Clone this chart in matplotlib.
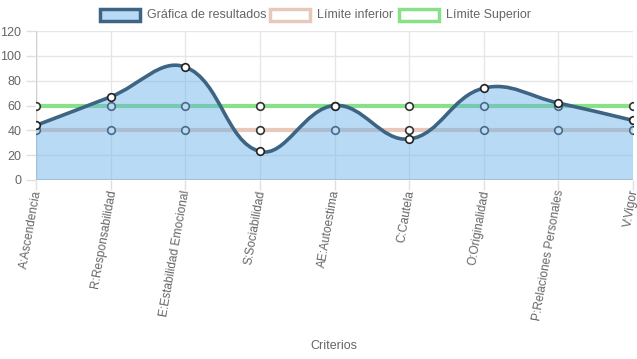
import matplotlib
matplotlib.use("Agg")
import matplotlib.pyplot as plt
import numpy as np
from matplotlib.path import Path
from matplotlib.patches import PathPatch, Rectangle

plt.rcParams['font.family'] = ['Liberation Sans', 'DejaVu Sans']

criterios = ['A:Ascendencia', 'R:Responsabilidad', 'E:Estabilidad Emocional',
             'S:Sociabilidad', 'AE:Autoestima', 'C:Cautela', 'O:Originalidad',
             'P:Relaciones Personales', 'V:Vigor']
resultados = [44, 67, 91, 23, 60, 33, 74, 62, 48]
limite_inferior = [40] * 9
limite_superior = [60] * 9

W, H = 637, 359
L, R, T, B = 36, 633, 31, 180
fig = plt.figure(figsize=(W / 100, H / 100), dpi=100)
ax = fig.add_axes([L / W, 1 - B / H, (R - L) / W, (B - T) / H])

xs = np.arange(len(criterios))
ax.set_xlim(0, len(criterios) - 1)
ax.set_ylim(0, 120)

# pixel scale, used for the chart.js style spline (tension 0.4)
sx = (R - L) / (len(criterios) - 1)
sy = (B - T) / 120.0


def spline_path(x, y, tension=0.4, close_to_zero=False):
    px = np.array(x, float) * sx
    py = np.array(y, float) * sy
    n = len(px)
    cp_prev = np.zeros((n, 2))
    cp_next = np.zeros((n, 2))
    for i in range(n):
        p0 = np.array([px[max(i - 1, 0)], py[max(i - 1, 0)]])
        p1 = np.array([px[i], py[i]])
        p2 = np.array([px[min(i + 1, n - 1)], py[min(i + 1, n - 1)]])
        d01 = np.hypot(*(p1 - p0))
        d12 = np.hypot(*(p2 - p1))
        tot = d01 + d12
        s01 = d01 / tot if tot else 0
        s12 = d12 / tot if tot else 0
        cp_prev[i] = p1 - tension * s01 * (p2 - p0)
        cp_next[i] = p1 + tension * s12 * (p2 - p0)
    verts = [(px[0], py[0])]
    codes = [Path.MOVETO]
    for i in range(n - 1):
        verts += [tuple(cp_next[i]), tuple(cp_prev[i + 1]), (px[i + 1], py[i + 1])]
        codes += [Path.CURVE4] * 3
    verts = [(vx / sx, vy / sy) for vx, vy in verts]
    if close_to_zero:
        verts += [(x[-1], 0), (x[0], 0), verts[0]]
        codes += [Path.LINETO, Path.LINETO, Path.CLOSEPOLY]
    return Path(verts, codes)


# grid
for x in xs:
    ax.axvline(x, color='#e6e6e6', lw=1, zorder=0)
for y in range(20, 121, 20):
    ax.axhline(y, color='#e6e6e6', lw=1, zorder=0)
for s in ax.spines.values():
    s.set_visible(False)
ax.axhline(0, color='#d0d0d0', lw=1.5, zorder=0.5)
ax.axvline(0, color='#d0d0d0', lw=1, zorder=0.5)

# limits
ax.plot(xs, limite_superior, color='#88e088', lw=3, zorder=1)
ax.plot(xs, limite_inferior, color='#e6c9bb', lw=3, zorder=1)
ax.scatter(xs, limite_superior, s=30, facecolor='white', edgecolor='#333333', lw=1.2, zorder=2)
ax.scatter(xs, limite_inferior, s=30, facecolor='white', edgecolor='#333333', lw=1.2, zorder=2)

# results
ax.add_patch(PathPatch(spline_path(xs, resultados, close_to_zero=True),
                       facecolor=(100 / 255, 175 / 255, 235 / 255, 0.45), edgecolor='none', zorder=3))
ax.add_patch(PathPatch(spline_path(xs, resultados), facecolor='none',
                       edgecolor='#3e6483', lw=2.6, zorder=4))
ax.scatter(xs, resultados, s=30, facecolor='white', edgecolor='#222222', lw=1.2, zorder=5)

ax.set_yticks(range(0, 121, 20))
ax.set_xticks(xs)
ax.set_xticklabels(criterios, rotation=80, ha='right', va='center_baseline', rotation_mode='anchor')
ax.tick_params(axis='both', colors='#e0e0e0', labelcolor='#666666', labelsize=9, length=7, width=1)
ax.tick_params(axis='x', pad=0, labelsize=8.6)
for lab in ax.get_xticklabels():
    lab.set_color('#666666')
fig.text(334 / W, 1 - 346 / H, 'Criterios', ha='center', va='center', fontsize=9, color='#666666')

# legend
items = [('Gráfica de resultados', 100, (100 / 255, 175 / 255, 235 / 255, 0.45), '#3e6483'),
         ('Límite inferior', 270, 'white', '#e6c9bb'),
         ('Límite Superior', 399, 'white', '#88e088')]
for label, x0, fc, ec in items:
    fig.patches.append(Rectangle((x0 / W, 1 - 21 / H), 40 / W, 12 / H, transform=fig.transFigure,
                                 facecolor=fc, edgecolor=ec, lw=2.5))
    fig.text((x0 + 47) / W, 1 - 15 / H, label, ha='left', va='center', fontsize=9, color='#666666')

fig.savefig('out.png', dpi=100)
